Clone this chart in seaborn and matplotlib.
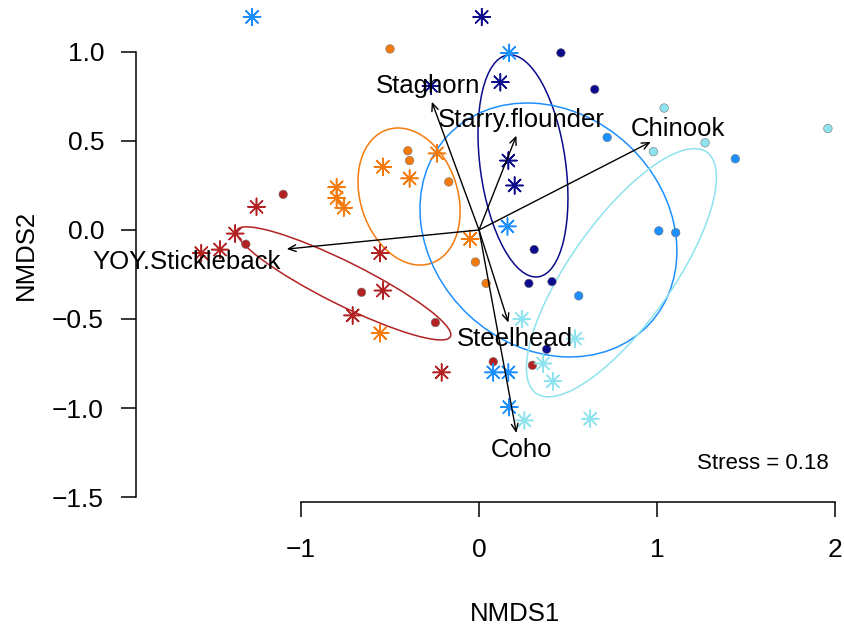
import pandas as pd
import matplotlib
matplotlib.use("Agg")
import matplotlib.pyplot as plt
from matplotlib.patches import Ellipse
import seaborn as sns

# ------------------------
# data read off the NMDS ordination
groups = ["G1", "G2", "G3", "G4", "G5"]
colours = ["#B22222", "#F57A0C", "#0B0B8C", "#1E8FFF", "#8EE3EE"]

g1_dot_x = [-1.10, -1.31, -0.66, -0.245, 0.08, 0.30]
g1_dot_y = [0.20, -0.08, -0.35, -0.52, -0.74, -0.76]
g1_star_x = [-1.25, -1.37, -1.455, -1.56, -0.555, -0.54, -0.71, -0.21]
g1_star_y = [0.13, -0.02, -0.11, -0.13, -0.13, -0.34, -0.48, -0.80]

g2_dot_x = [-0.50, -0.40, -0.39, -0.17, -0.02, 0.04]
g2_dot_y = [1.017, 0.445, 0.39, 0.27, -0.18, -0.30]
g2_star_x = [-0.236, -0.54, -0.39, -0.80, -0.80, -0.76, -0.05, -0.555]
g2_star_y = [0.43, 0.355, 0.29, 0.24, 0.18, 0.125, -0.05, -0.58]

g3_dot_x = [0.46, 0.65, 0.31, 0.28, 0.41, 0.38]
g3_dot_y = [0.995, 0.79, -0.11, -0.30, -0.29, -0.67]
g3_star_x = [0.015, 0.12, 0.165, 0.20, -0.27]
g3_star_y = [1.197, 0.83, 0.39, 0.25, 0.81]

g4_dot_x = [0.72, 1.44, 1.01, 1.105, 0.56]
g4_dot_y = [0.52, 0.40, -0.005, -0.015, -0.37]
g4_star_x = [-1.275, 0.17, 0.16, 0.08, 0.165, 0.17]
g4_star_y = [1.197, 0.995, 0.02, -0.80, -0.80, -0.995]

g5_dot_x = [1.04, 1.96, 1.27, 0.98]
g5_dot_y = [0.685, 0.57, 0.49, 0.44]
g5_star_x = [0.24, 0.54, 0.36, 0.415, 0.255, 0.625]
g5_star_y = [-0.50, -0.61, -0.75, -0.85, -1.07, -1.06]

# ellipses per group: centre, semi axes, angle (deg)
ell_cx = [-0.76, -0.393, 0.247, 0.39, 0.80]
ell_cy = [-0.30, 0.188, 0.36, 0.0, -0.24]
ell_a = [0.67, 0.395, 0.629, 0.775, 0.83]
ell_b = [0.12, 0.273, 0.24, 0.655, 0.287]
ell_ang = [-26.5, 108, 97.8, -43, 54.7]

# species vectors (envfit)
species = ["Staghorn", "Starry.flounder", "Chinook", "YOY.Stickleback", "Steelhead", "Coho"]
vec_x = [-0.265, 0.21, 0.965, -1.08, 0.165, 0.21]
vec_y = [0.72, 0.53, 0.495, -0.107, -0.52, -1.14]
lab_x = [-0.286, 0.236, 1.12, -1.643, 0.20, 0.236]
lab_y = [0.769, 0.577, 0.528, -0.219, -0.65, -1.277]

stress = 0.18
xticks = [-1, 0, 1, 2]
yticks = [-1.5, -1.0, -0.5, 0.0, 0.5, 1.0]

# ------------------------
rows = []
for g, dx, dy, sx, sy in [
    ("G1", g1_dot_x, g1_dot_y, g1_star_x, g1_star_y),
    ("G2", g2_dot_x, g2_dot_y, g2_star_x, g2_star_y),
    ("G3", g3_dot_x, g3_dot_y, g3_star_x, g3_star_y),
    ("G4", g4_dot_x, g4_dot_y, g4_star_x, g4_star_y),
    ("G5", g5_dot_x, g5_dot_y, g5_star_x, g5_star_y),
]:
    rows += [(g, "dot", x, y) for x, y in zip(dx, dy)]
    rows += [(g, "star", x, y) for x, y in zip(sx, sy)]
df = pd.DataFrame(rows, columns=["group", "shape", "NMDS1", "NMDS2"])
pal = dict(zip(groups, colours))

sns.set_theme(style="white")
plt.rcParams['font.family'] = ['Liberation Sans', 'DejaVu Sans']
plt.rcParams['text.color'] = 'black'
plt.rcParams['axes.labelcolor'] = 'black'

fig = plt.figure(figsize=(8.44, 6.28), dpi=100)
ax = fig.add_axes([136 / 844, 126 / 628, 704 / 844, 494 / 628])

sns.scatterplot(data=df[df["shape"] == "dot"], x="NMDS1", y="NMDS2", hue="group",
                palette=pal, marker="o", s=38, edgecolor="#777777", linewidth=0.4,
                legend=False, ax=ax, zorder=3)
sns.scatterplot(data=df[df["shape"] == "star"], x="NMDS1", y="NMDS2", hue="group",
                palette=pal, marker=(8, 2, 0), s=150, linewidth=1.1,
                legend=False, ax=ax, zorder=3)

for i, g in enumerate(groups):
    ax.add_patch(Ellipse((ell_cx[i], ell_cy[i]), 2 * ell_a[i], 2 * ell_b[i], angle=ell_ang[i],
                         fill=False, edgecolor=pal[g], linewidth=1.1, zorder=2))

for sp, vx, vy, tx, ty in zip(species, vec_x, vec_y, lab_x, lab_y):
    ax.annotate("", xy=(vx, vy), xytext=(0, 0),
                arrowprops=dict(arrowstyle="->,head_length=0.45,head_width=0.2",
                                color="black", lw=1.0, shrinkA=0, shrinkB=0), zorder=4)
    ax.text(tx, ty, sp, ha="center", va="baseline", fontsize=18.5, color="black", zorder=5)

ax.text(1.966, -1.344, f"Stress = {stress}", ha="right", va="baseline", fontsize=16, color="black")

ax.set_xlim(-1.927, 2.028)
ax.set_ylim(-1.528, 1.247)
ax.set_xticks(xticks)
ax.set_xticklabels([str(t).replace("-", "\u2212") for t in xticks])
ax.set_yticks(yticks)
ax.set_yticklabels([f"{t:.1f}".replace("-", "\u2212") for t in yticks])
for s in ["top", "right"]:
    ax.spines[s].set_visible(False)
ax.spines["left"].set_bounds(-1.5, 1.0)
ax.spines["bottom"].set_bounds(-1, 2)
for s in ["left", "bottom"]:
    ax.spines[s].set_color("black")
    ax.spines[s].set_linewidth(1.1)
ax.tick_params(axis="both", direction="out", length=11, width=1.1, colors="black",
               labelsize=19, left=True, bottom=True)
ax.tick_params(axis="y", pad=12)
ax.tick_params(axis="x", pad=15)

ax.set_xlabel("NMDS1", fontsize=18.5, color="black")
ax.set_ylabel("NMDS2", fontsize=18.5, color="black")
ax.xaxis.set_label_coords((515 - 136) / 704, (628 - 602 - 126) / 494)
ax.yaxis.set_label_coords((38 - 136) / 704, (628 - 255 - 126) / 494)
ax.grid(False)

fig.savefig("out.png", dpi=100)
